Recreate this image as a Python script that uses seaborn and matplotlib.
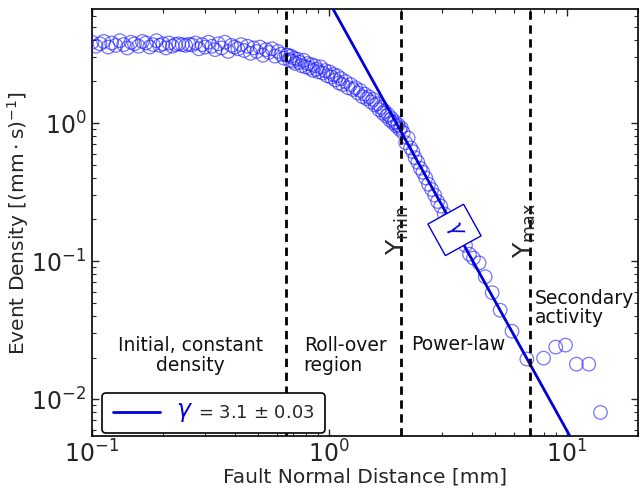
import matplotlib
matplotlib.use("Agg")
import matplotlib.pyplot as plt
import seaborn as sns
import numpy as np
import pandas as pd
from matplotlib.lines import Line2D
from matplotlib.transforms import IdentityTransform

# ---------------- data ----------------
dist_a = [0.100, 0.104, 0.108, 0.112, 0.117, 0.121, 0.126, 0.131, 0.136, 0.141,
          0.146, 0.151, 0.157, 0.163, 0.169, 0.175, 0.181, 0.187, 0.193, 0.199,
          0.205, 0.211, 0.218, 0.225, 0.232, 0.240, 0.248, 0.256, 0.264, 0.273,
          0.282, 0.291, 0.300, 0.310, 0.320, 0.330, 0.341, 0.352, 0.363, 0.375,
          0.387, 0.399, 0.412, 0.425, 0.438, 0.452, 0.466, 0.480, 0.495, 0.510,
          0.525, 0.541, 0.557, 0.574, 0.591, 0.608, 0.626, 0.644, 0.660]
dens_a = [3.85, 3.6, 3.75, 3.9, 3.55, 3.8, 3.65, 3.95, 3.7, 3.5,
          3.85, 3.75, 3.6, 3.9, 3.8, 3.55, 3.7, 3.95, 3.65, 3.75,
          3.5, 3.8, 3.6, 3.7, 3.75, 3.7, 3.65, 3.72, 3.68, 3.8,
          3.45, 3.7, 3.55, 3.85, 3.6, 3.4, 3.75, 3.5, 3.85, 3.3,
          3.65, 3.55, 3.45, 3.7, 3.35, 3.6, 3.2, 3.5, 3.3, 3.55,
          3.1, 3.4, 3.25, 3.45, 3.05, 3.3, 3.15, 2.95, 3.1]

dist_b = [0.67, 0.68, 0.69, 0.70, 0.71, 0.72, 0.735, 0.75, 0.765, 0.78,
          0.795, 0.81, 0.825, 0.84, 0.855, 0.87, 0.885, 0.90, 0.92, 0.94,
          0.96, 0.98, 1.00, 1.02, 1.04, 1.06, 1.08, 1.10, 1.12, 1.14,
          1.17, 1.20, 1.23, 1.26, 1.29, 1.32, 1.35, 1.38, 1.41, 1.44,
          1.47, 1.50, 1.53, 1.56, 1.59, 1.62, 1.65, 1.68, 1.71, 1.74,
          1.77, 1.80, 1.83, 1.86, 1.89, 1.92, 1.95, 1.98, 2.01]
dens_b = [3.1, 2.85, 3.05, 2.8, 2.95, 2.7, 2.9, 2.75, 2.6, 2.85,
          2.55, 2.7, 2.5, 2.65, 2.4, 2.6, 2.45, 2.35, 2.55, 2.3,
          2.4, 2.2, 2.35, 2.15, 2.25, 2.05, 2.2, 1.95, 2.1, 1.9,
          2.0, 1.8, 1.9, 1.75, 1.8, 1.65, 1.72, 1.55, 1.62, 1.5,
          1.55, 1.42, 1.48, 1.35, 1.38, 1.25, 1.3, 1.18, 1.22, 1.12,
          1.15, 1.05, 1.08, 1.0, 1.02, 0.95, 0.97, 0.9, 0.92]

dist_c = [2.05, 2.1, 2.15, 2.2, 2.25, 2.3, 2.36, 2.42, 2.48, 2.55,
          2.62, 2.7, 2.78, 2.86, 2.95, 3.05, 3.15, 3.3, 3.45, 3.6,
          3.75, 3.9, 4.05]
dens_c = [0.85, 0.72, 0.78, 0.66, 0.62, 0.56, 0.52, 0.47, 0.44, 0.40,
          0.36, 0.33, 0.30, 0.27, 0.25, 0.22, 0.20, 0.18, 0.16, 0.145,
          0.13, 0.112, 0.105]

dist_tail = [4.28, 4.54, 4.86, 5.25, 5.89, 6.8, 8.0, 9.0, 9.9, 11.0, 12.4, 13.9]
dens_tail = [0.097, 0.077, 0.059, 0.044, 0.031, 0.0195, 0.0198, 0.0238, 0.0246,
             0.0179, 0.0179, 0.0080]

gamma = 3.1
gamma_err = 0.03
amplitude = 7.5
fit_range = [1.0, 11.0]

boundaries = [0.66, 2.0, 7.0]

region_labels = ["Initial, constant\ndensity", "Roll-over\nregion", "Power-law",
                 "Secondary\nactivity"]
region_x = [0.26, 0.78, 2.22, 7.35]
region_y = [0.0208, 0.0208, 0.025, 0.0457]
region_ha = ["center", "left", "left", "left"]

# ---------------- plot ----------------
sns.set_style("ticks")
plt.rcParams["font.family"] = ["DejaVu Sans"]
plt.rcParams["mathtext.fontset"] = "dejavusans"

fig = plt.figure(figsize=(6.41, 4.95), dpi=100)
ax = fig.add_axes([92 / 641, 59 / 495, 546 / 641, 427 / 495])

df = pd.DataFrame({
    "dist": dist_a + dist_b + dist_c + dist_tail,
    "dens": dens_a + dens_b + dens_c + dens_tail,
})
sns.scatterplot(data=df, x="dist", y="dens", ax=ax, marker="o", s=95,
                color="#1a1aff", facecolors="none", edgecolor="#1a1aff",
                linewidth=0.9, alpha=0.6, zorder=3)
ax.collections[-1].set_facecolor("none")

fit_x = np.array(fit_range)
fit_df = pd.DataFrame({"x": fit_x, "y": amplitude * fit_x ** (-gamma)})
sns.lineplot(data=fit_df, x="x", y="y", ax=ax, color="#0000dd", linewidth=2,
             zorder=4)

for b in boundaries:
    ax.axvline(b, color="black", linestyle=(0, (3, 2)), linewidth=2, zorder=5)

ax.set_xscale("log")
ax.set_yscale("log")
ax.set_xlim(0.1, 20)
ax.set_ylim(0.0054, 6.7)

for s in ax.spines.values():
    s.set_visible(True)
    s.set_linewidth(1.2)
    s.set_color("black")
ax.tick_params(which="both", direction="in", top=True, right=True, labelsize=17)
ax.tick_params(which="major", length=5, width=1)
ax.tick_params(which="minor", length=3, width=0.8)
ax.tick_params(axis="x", which="major", pad=3)
ax.tick_params(axis="y", which="major", pad=4)

ax.set_xlabel("Fault Normal Distance [mm]", fontsize=14.5, labelpad=0)
ax.set_ylabel(r"Event Density $[(\mathrm{mm}\cdot\mathrm{s})^{-1}]$",
              fontsize=14.5, labelpad=0)

for lab, x, y, ha in zip(region_labels, region_x, region_y, region_ha):
    ax.text(x, y, lab, ha=ha, va="center", fontsize=13.5, linespacing=1.05,
            color="#111111", zorder=6)

ax.text(1.94, 0.168, r"Y$_{\mathrm{min}}$", rotation=90, ha="center",
        va="center", fontsize=18, zorder=6)
ax.text(6.66, 0.168, r"Y$_{\mathrm{max}}$", rotation=90, ha="center",
        va="center", fontsize=18, zorder=6)

ax.text(3.37, 0.168, r"$\gamma$", rotation=-61, ha="center", va="center",
        fontsize=15, color="#0000dd", zorder=7,
        bbox=dict(boxstyle="square,pad=0.5", fc="white", ec="#0000dd", lw=1))

handle = Line2D([0], [0], color="#0000dd", lw=2)
leg = ax.legend([handle], [r"= %.1f $\pm$ %.2f" % (gamma, gamma_err)],
                loc="lower left", bbox_to_anchor=(10 / 546, 3 / 427),
                borderaxespad=0, fontsize=13, handlelength=2.6,
                fancybox=True, framealpha=1, edgecolor="black",
                handletextpad=2.1, borderpad=0.6)
leg.get_frame().set_linewidth(1.2)
leg.set_zorder(8)

fig.canvas.draw()
tb = leg.get_texts()[0].get_window_extent()
fig.text(tb.x0 - 5, (tb.y0 + tb.y1) / 2 + 1, r"$\gamma$", transform=IdentityTransform(),
         color="#0000dd", fontsize=17, ha="right", va="center", zorder=10)

fig.savefig("out.png", dpi=100)
